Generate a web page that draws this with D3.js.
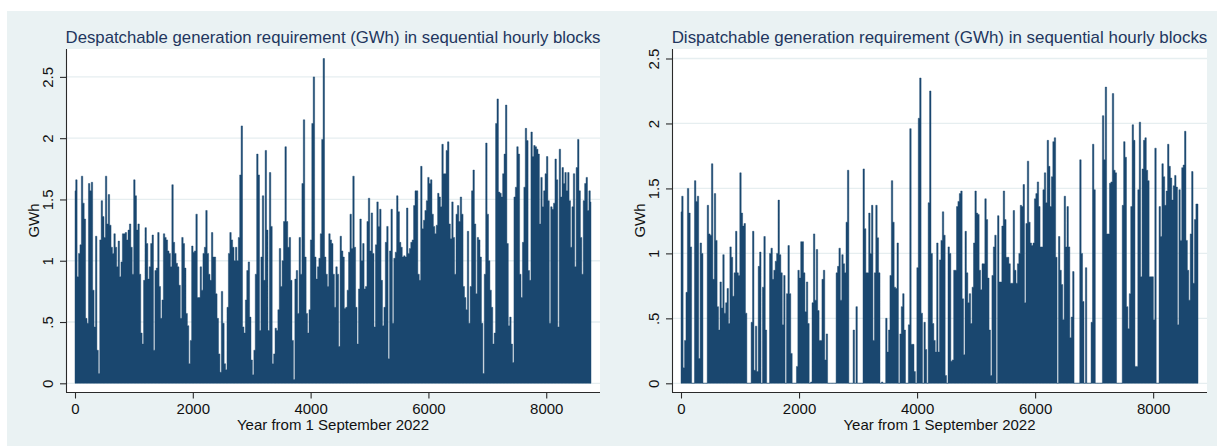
<!DOCTYPE html>
<html>
<head>
<meta charset="utf-8">
<script src="https://cdn.jsdelivr.net/npm/d3@7"></script>
<style>
  html, body { margin: 0; padding: 0; background: #ffffff; }
  svg { display: block; font-family: "Liberation Sans", Arial, Helvetica, sans-serif; }
</style>
</head>
<body>
<svg id="chart" width="1217" height="446"></svg>
<script>
// Daily samples (every 24 hours) of the hourly requirement, GWh
const HOURS_PER_SAMPLE = 24;
const HOURS_IN_YEAR = 8760;

const despatchableGWh = [
  1.57,1.66,0.87,1.06,1.13,1.69,1.47,1.34,0.53,0.49,
  1.63,1.57,1.64,0.76,0.46,1.20,0.27,0.08,1.17,1.49,
  1.36,1.19,1.69,1.30,1.54,1.29,1.11,1.06,1.22,1.11,
  0.95,1.16,0.87,0.99,1.22,1.22,1.23,1.17,1.25,1.30,
  1.11,0.89,1.66,1.53,1.25,1.30,0.89,0.41,0.32,0.84,
  1.27,1.14,0.85,0.95,1.14,1.21,0.27,0.92,0.94,1.23,
  0.79,0.53,0.68,1.22,1.19,1.17,1.08,1.06,0.95,1.62,
  1.15,1.06,0.98,0.95,0.80,0.53,1.19,1.14,0.94,0.57,
  0.47,0.16,0.35,1.12,1.07,1.08,1.38,0.70,0.70,0.95,
  0.76,1.06,1.11,1.41,1.06,0.89,0.84,1.23,1.03,1.03,
  0.73,0.53,0.24,0.09,0.75,0.49,0.16,0.11,0.62,1.06,
  1.23,1.17,1.11,1.00,1.11,1.00,1.19,1.70,2.10,0.46,
  0.41,0.68,0.92,0.99,0.54,0.19,0.07,0.27,0.89,1.87,
  1.70,0.43,1.03,1.53,0.84,1.90,1.25,0.43,1.72,1.28,
  0.16,0.24,0.45,0.43,0.60,1.10,0.79,1.00,1.32,1.93,
  1.32,1.11,1.19,0.84,0.35,0.03,0.85,0.92,0.57,1.19,
  0.89,1.63,2.15,1.03,0.57,0.41,0.60,1.17,2.12,2.50,
  1.03,0.85,0.95,1.02,1.22,1.99,2.65,1.03,0.89,0.79,
  1.22,1.17,1.14,0.89,0.62,0.95,0.89,0.30,1.20,1.08,
  1.03,0.61,0.62,0.76,1.07,1.38,1.10,1.69,1.11,0.62,
  0.32,0.77,1.34,1.00,1.14,0.77,0.79,1.32,1.51,1.08,
  1.39,1.06,0.46,1.13,1.48,1.28,1.42,0.84,0.47,0.62,
  1.15,1.28,0.20,1.08,1.42,0.49,1.02,1.07,1.53,1.40,
  1.15,1.11,1.03,1.04,1.03,1.43,1.06,1.10,1.15,1.17,
  1.45,1.57,1.57,0.89,0.84,1.77,1.26,1.33,1.41,1.49,
  1.68,1.63,1.66,1.38,1.28,1.22,1.29,1.55,1.52,1.44,
  1.95,1.71,1.71,1.90,1.97,1.30,1.18,1.48,1.19,0.89,
  1.38,1.45,1.32,1.52,1.38,0.79,0.70,0.60,1.24,0.49,
  0.79,1.57,1.74,1.30,0.73,1.19,1.17,1.03,0.49,0.08,
  0.89,1.96,1.38,1.00,0.76,0.62,0.32,0.41,2.12,2.32,
  1.56,1.55,1.52,1.71,1.87,2.27,1.14,0.47,0.54,0.32,
  0.17,1.52,1.60,1.93,1.87,0.89,0.70,1.15,1.60,2.08,
  1.98,0.92,0.84,2.05,1.85,1.94,1.93,1.91,1.87,1.30,
  1.68,1.44,1.57,1.71,1.85,1.49,0.49,1.44,1.42,1.47,
  1.83,1.66,0.46,1.91,1.52,1.76,1.63,1.72,1.57,1.72,
  1.49,1.11,1.44,1.71,0.95,1.76,1.99,1.57,1.19,0.89,
  1.49,1.63,1.68,1.41,1.57,1.48
];

const dispatchableGWh = [
  1.32,1.44,0.12,0.33,0.70,1.50,1.31,1.05,0,0,
  1.56,1.40,1.44,0.19,1.08,1.00,0,0,0,1.37,
  1.15,1.14,1.69,0.80,1.46,1.10,0.59,0.41,0.78,0.58,
  0.99,0.54,0.62,0.73,0.46,1.05,0.97,0.67,0.85,1.17,
  0.85,0.83,1.62,1.31,1.21,1.23,0.54,0,0,0,
  0.47,1.17,0.10,0.44,0.09,0.90,1.01,0,0.74,1.13,
  0.41,0,0,1.00,1.04,0.80,0.87,0.94,1.00,1.41,
  0.99,0.85,0.45,0.83,0,0.69,1.06,0.69,0.23,0,
  0,0,0.13,0.87,0.81,1.09,1.09,0.85,0.55,0.78,
  0.46,0,0.01,0.62,1.15,0.64,1.03,0.56,0.33,0.33,
  0.80,0.87,0.18,0.38,0,0,0,0,0,0,
  0.85,0.90,1.04,0.64,0.99,0.92,0.85,1.24,1.64,0,
  0,0,0.41,0,0.59,0,0,0,0,1.65,
  1.19,0.85,0.85,1.31,1.00,1.37,0.33,0.85,1.37,1.12,
  0.85,0,0.01,0,0,0.50,0.24,0.41,0.83,1.56,
  1.24,0.74,0.73,1.08,0,0.38,0.59,0.69,0.41,0,
  0,0.45,1.96,0.30,0.30,0.09,0,0.89,2.04,2.35,
  0.54,0,0.47,0.26,0,1.39,2.25,1.00,0.46,0.33,
  0.24,1.08,0.24,0.95,1.10,1.32,1.14,0.06,0,1.05,
  1.00,0.17,0.18,0.87,0.87,1.36,1.40,1.46,1.48,0.65,
  0.22,1.17,0.85,0.62,0.69,0.46,0.74,1.08,1.48,1.31,
  1.30,0.87,0.72,0.92,0.92,1.42,1.26,0.81,0.41,0.06,
  0.83,1.05,1.14,0,1.29,0.78,0.78,1.21,1.48,1.26,
  0.97,0.97,0.92,0.77,0.77,1.33,0.87,0.77,0.92,1.00,
  1.37,1.36,1.53,0.62,1.23,1.71,1.24,1.08,1.06,1.08,
  1.42,1.46,1.55,1.36,1.05,1.05,1.49,1.62,1.39,1.87,
  1.67,1.36,1.59,1.86,1.89,0.97,0,1.13,0.87,0.76,
  0.49,1.44,1.05,1.36,1.05,0.35,0.51,0.86,0,0,
  0,0,1.72,1.00,0.63,0,0.89,0,0,0,
  0.47,1.84,1.49,0,0,0,0,0,2.06,1.72,
  2.28,1.15,1.15,1.54,1.55,2.23,1.64,1.62,0,0,
  0,0,1.37,1.86,1.74,0.59,0.42,0.69,1.36,1.99,
  1.87,0.13,0.13,1.49,2.01,0.82,1.65,1.87,1.89,1.64,
  1.56,0.82,0.82,0.82,0.49,1.81,0,0,1.36,1.13,
  1.69,1.59,1.37,1.48,1.84,1.67,1.58,1.41,1.52,1.60,
  1.51,0.45,1.49,1.10,1.66,1.68,1.94,1.10,0.87,0.64,
  1.15,1.63,0.77,1.26,1.38,1.38
];

const panelTitles = [
  "Despatchable generation requirement (GWh) in sequential hourly blocks",
  "Dispatchable generation requirement (GWh) in sequential hourly blocks"
];
const yTickValues = [0, 0.5, 1, 1.5, 2, 2.5];
const yTickLabels = ["0", ".5", "1", "1.5", "2", "2.5"];
const xTickValues = [0, 2000, 4000, 6000, 8000];
const xAxisTitle = "Year from 1 September 2022";
const yAxisTitle = "GWh";

// ---- layout & style ----
const W = 1217, H = 446;
const BG = "#eaf2f3";
const SERIES_COLOR = "#1a476f";
const TITLE_COLOR = "#22365e";
const GRID_COLOR = "#e6eef0";
const AXIS_COLOR = "#2a2a2a";
const PLOT_TOP = 49, PLOT_BOTTOM = 392;
const INNER_PAD_X = 9, INNER_PAD_BOTTOM = 8.7, INNER_PAD_TOP = 9.5;

const svg = d3.select("#chart");

// graph background
svg.append("rect")
  .attr("x", 7).attr("y", 11)
  .attr("width", W - 7).attr("height", H - 11)
  .attr("fill", BG);

const panels = [
  { series: despatchableGWh, title: panelTitles[0], left: 66, right: 600 },
  { series: dispatchableGWh, title: panelTitles[1], left: 672, right: 1207 }
];

panels.forEach(p => {
  const g = svg.append("g");
  const data = p.series.map((v, i) => ({ hour: i * HOURS_PER_SAMPLE, value: v }));

  const x = d3.scaleLinear()
    .domain([0, HOURS_IN_YEAR])
    .range([p.left + INNER_PAD_X, p.right - INNER_PAD_X]);
  const yMax = Math.max(2.5, d3.max(p.series));
  const y = d3.scaleLinear()
    .domain([0, yMax])
    .range([PLOT_BOTTOM - INNER_PAD_BOTTOM, PLOT_TOP + INNER_PAD_TOP]);

  // white plot region
  g.append("rect")
    .attr("x", p.left).attr("y", PLOT_TOP)
    .attr("width", p.right - p.left).attr("height", PLOT_BOTTOM - PLOT_TOP)
    .attr("fill", "#ffffff");

  // horizontal grid
  g.append("g").selectAll("line")
    .data(yTickValues)
    .join("line")
    .attr("x1", p.left).attr("x2", p.right)
    .attr("y1", d => y(d)).attr("y2", d => y(d))
    .attr("stroke", GRID_COLOR).attr("stroke-width", 1.3);

  // requirement series as hourly blocks, filled down to zero
  const area = d3.area()
    .x(d => x(d.hour))
    .y0(y(0))
    .y1(d => y(d.value))
    .curve(d3.curveStep);
  g.append("path")
    .datum(data)
    .attr("d", area)
    .attr("fill", SERIES_COLOR)
    .attr("stroke", SERIES_COLOR)
    .attr("stroke-width", 0.45)
    .attr("stroke-linejoin", "miter");

  // axis lines along the plot-region edges
  g.append("line")
    .attr("x1", p.left + 0.5).attr("x2", p.left + 0.5)
    .attr("y1", PLOT_TOP).attr("y2", PLOT_BOTTOM)
    .attr("stroke", AXIS_COLOR).attr("stroke-width", 1.1);
  g.append("line")
    .attr("x1", p.left).attr("x2", p.right)
    .attr("y1", PLOT_BOTTOM + 0.5).attr("y2", PLOT_BOTTOM + 0.5)
    .attr("stroke", AXIS_COLOR).attr("stroke-width", 1.1);

  // y axis: ticks and vertical labels
  const yAxis = d3.axisLeft(y)
    .tickValues(yTickValues)
    .tickFormat((d, i) => yTickLabels[i])
    .tickSize(6.5)
    .tickSizeOuter(0);
  const yg = g.append("g")
    .attr("transform", `translate(${p.left + 0.5},0)`)
    .call(yAxis);
  yg.select(".domain").remove();
  yg.selectAll(".tick line").attr("stroke", AXIS_COLOR).attr("stroke-width", 1.1);
  yg.selectAll(".tick text")
    .attr("x", null).attr("dy", null)
    .attr("text-anchor", "middle")
    .attr("transform", "translate(-13.5,0) rotate(-90)")
    .attr("fill", "#111")
    .style("font-size", "15px")
    .style("font-family", "'Liberation Sans', Arial, Helvetica, sans-serif");

  // x axis
  const xAxis = d3.axisBottom(x)
    .tickValues(xTickValues)
    .tickFormat(d3.format("d"))
    .tickSize(6)
    .tickSizeOuter(0)
    .tickPadding(4.5);
  const xg = g.append("g")
    .attr("transform", `translate(0,${PLOT_BOTTOM + 0.5})`)
    .call(xAxis);
  xg.select(".domain").remove();
  xg.selectAll(".tick line").attr("stroke", AXIS_COLOR).attr("stroke-width", 1.1);
  xg.selectAll(".tick text")
    .attr("fill", "#111")
    .style("font-size", "15px")
    .style("font-family", "'Liberation Sans', Arial, Helvetica, sans-serif");

  const cx = (p.left + p.right) / 2;

  // axis titles
  g.append("text")
    .attr("x", cx).attr("y", 430)
    .attr("text-anchor", "middle")
    .attr("fill", "#111")
    .style("font-size", "15px")
    .text(xAxisTitle);
  g.append("text")
    .attr("transform", `translate(${p.left - 27},${(PLOT_TOP + PLOT_BOTTOM) / 2}) rotate(-90)`)
    .attr("text-anchor", "middle")
    .attr("fill", "#111")
    .style("font-size", "15px")
    .text(yAxisTitle);

  // panel title spanning the plot width
  const title = g.append("text")
    .attr("x", cx).attr("y", 43)
    .attr("text-anchor", "middle")
    .attr("fill", TITLE_COLOR)
    .style("font-size", "16px")
    .text(p.title);
  const target = p.right - p.left + 1;
  const len = title.node().getComputedTextLength();
  if (len > 0) {
    const fs = Math.max(14, Math.min(18, 16 * target / len));
    title.style("font-size", fs.toFixed(2) + "px");
  }
});
</script>
</body>
</html>
